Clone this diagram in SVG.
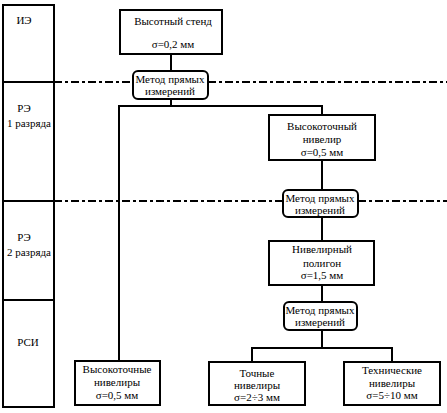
<svg xmlns="http://www.w3.org/2000/svg" width="447" height="413" viewBox="0 0 447 413">
<style>
.b{fill:#fff;stroke:#000;stroke-width:2}
.m{fill:#fff;stroke:#000;stroke-width:2}
.c{fill:none;stroke:#000;stroke-width:2}
.d{fill:none;stroke:#000;stroke-width:2;stroke-dasharray:8 3 3 3}
</style>
<rect width="447" height="413" fill="#fff"/>
<g id="levels">
<rect class="b" x="3" y="5" width="51" height="402" fill="none"/>
<line class="c" x1="3" y1="82" x2="54" y2="82"/>
<line class="c" x1="3" y1="201" x2="54" y2="201"/>
<line class="c" x1="3" y1="300" x2="54" y2="300"/>
<text x="24" y="24" font-family="Liberation Serif" font-size="11" text-anchor="middle">ИЭ</text>
<text x="24" y="112" font-family="Liberation Serif" font-size="11" text-anchor="middle">РЭ</text>
<text x="29" y="127" font-family="Liberation Serif" font-size="11" text-anchor="middle">1 разряда</text>
<text x="24" y="241" font-family="Liberation Serif" font-size="11" text-anchor="middle">РЭ</text>
<text x="29" y="256" font-family="Liberation Serif" font-size="11" text-anchor="middle">2 разряда</text>
<text x="28" y="346" font-family="Liberation Serif" font-size="11" text-anchor="middle">РСИ</text>
</g>
<g id="connectors">
<line class="d" x1="54" y1="82" x2="133" y2="82"/>
<line class="d" x1="208" y1="82" x2="447" y2="82"/>
<line class="d" x1="54" y1="201" x2="283" y2="201"/>
<line class="d" x1="358" y1="201" x2="447" y2="201"/>
<line class="c" x1="171" y1="54" x2="171" y2="71"/>
<polyline class="c" points="171,99 171,106"/>
<polyline class="c" points="119,361 119,106 322,106 322,115"/>
<line class="c" x1="322" y1="160" x2="322" y2="190"/>
<line class="c" x1="322" y1="217" x2="322" y2="241"/>
<line class="c" x1="322" y1="285" x2="322" y2="302"/>
<polyline class="c" points="322,330 322,348"/>
<polyline class="c" points="252,362 252,348 392,348 392,362"/>
</g>
<g id="n1">
<rect class="b" x="120" y="10" width="102" height="44"/>
<text x="173" y="25" font-family="Liberation Serif" font-size="11" text-anchor="middle">Высотный стенд</text>
<text x="173" y="48" font-family="Liberation Serif" font-size="11" text-anchor="middle">σ=0,2 мм</text>
</g>
<g id="m1">
<rect class="m" x="133" y="71" width="75" height="28" rx="5"/>
<text x="170" y="83" font-family="Liberation Serif" font-size="11" text-anchor="middle">Метод прямых</text>
<text x="170" y="95" font-family="Liberation Serif" font-size="11" text-anchor="middle">измерений</text>
</g>
<g id="n2">
<rect class="b" x="269" y="115" width="106" height="45"/>
<text x="322" y="130" font-family="Liberation Serif" font-size="11" text-anchor="middle">Высокоточный</text>
<text x="322" y="143" font-family="Liberation Serif" font-size="11" text-anchor="middle">нивелир</text>
<text x="322" y="156" font-family="Liberation Serif" font-size="11" text-anchor="middle">σ=0,5 мм</text>
</g>
<g id="m2">
<rect class="m" x="283" y="190" width="75" height="27" rx="5"/>
<text x="320" y="202" font-family="Liberation Serif" font-size="11" text-anchor="middle">Метод прямых</text>
<text x="320" y="214" font-family="Liberation Serif" font-size="11" text-anchor="middle">измерений</text>
</g>
<g id="n3">
<rect class="b" x="269" y="241" width="105" height="44"/>
<text x="322" y="253" font-family="Liberation Serif" font-size="11" text-anchor="middle">Нивелирный</text>
<text x="322" y="267" font-family="Liberation Serif" font-size="11" text-anchor="middle">полигон</text>
<text x="322" y="279" font-family="Liberation Serif" font-size="11" text-anchor="middle">σ=1,5 мм</text>
</g>
<g id="m3">
<rect class="m" x="284" y="302" width="73" height="28" rx="5"/>
<text x="320" y="314" font-family="Liberation Serif" font-size="11" text-anchor="middle">Метод прямых</text>
<text x="320" y="326" font-family="Liberation Serif" font-size="11" text-anchor="middle">измерений</text>
</g>
<g id="n4">
<rect class="b" x="75" y="361" width="85" height="44"/>
<text x="117" y="373" font-family="Liberation Serif" font-size="11" text-anchor="middle">Высокоточные</text>
<text x="117" y="386" font-family="Liberation Serif" font-size="11" text-anchor="middle">нивелиры</text>
<text x="117" y="399" font-family="Liberation Serif" font-size="11" text-anchor="middle">σ=0,5 мм</text>
</g>
<g id="n5">
<rect class="b" x="209" y="362" width="96" height="43"/>
<text x="257" y="377" font-family="Liberation Serif" font-size="11" text-anchor="middle">Точные</text>
<text x="257" y="389" font-family="Liberation Serif" font-size="11" text-anchor="middle">нивелиры</text>
<text x="257" y="401" font-family="Liberation Serif" font-size="11" text-anchor="middle">σ=2÷3 мм</text>
</g>
<g id="n6">
<rect class="b" x="344" y="362" width="96" height="43"/>
<text x="392" y="374" font-family="Liberation Serif" font-size="11" text-anchor="middle">Технические</text>
<text x="392" y="387" font-family="Liberation Serif" font-size="11" text-anchor="middle">нивелиры</text>
<text x="392" y="399" font-family="Liberation Serif" font-size="11" text-anchor="middle">σ=5÷10 мм</text>
</g>
</svg>
